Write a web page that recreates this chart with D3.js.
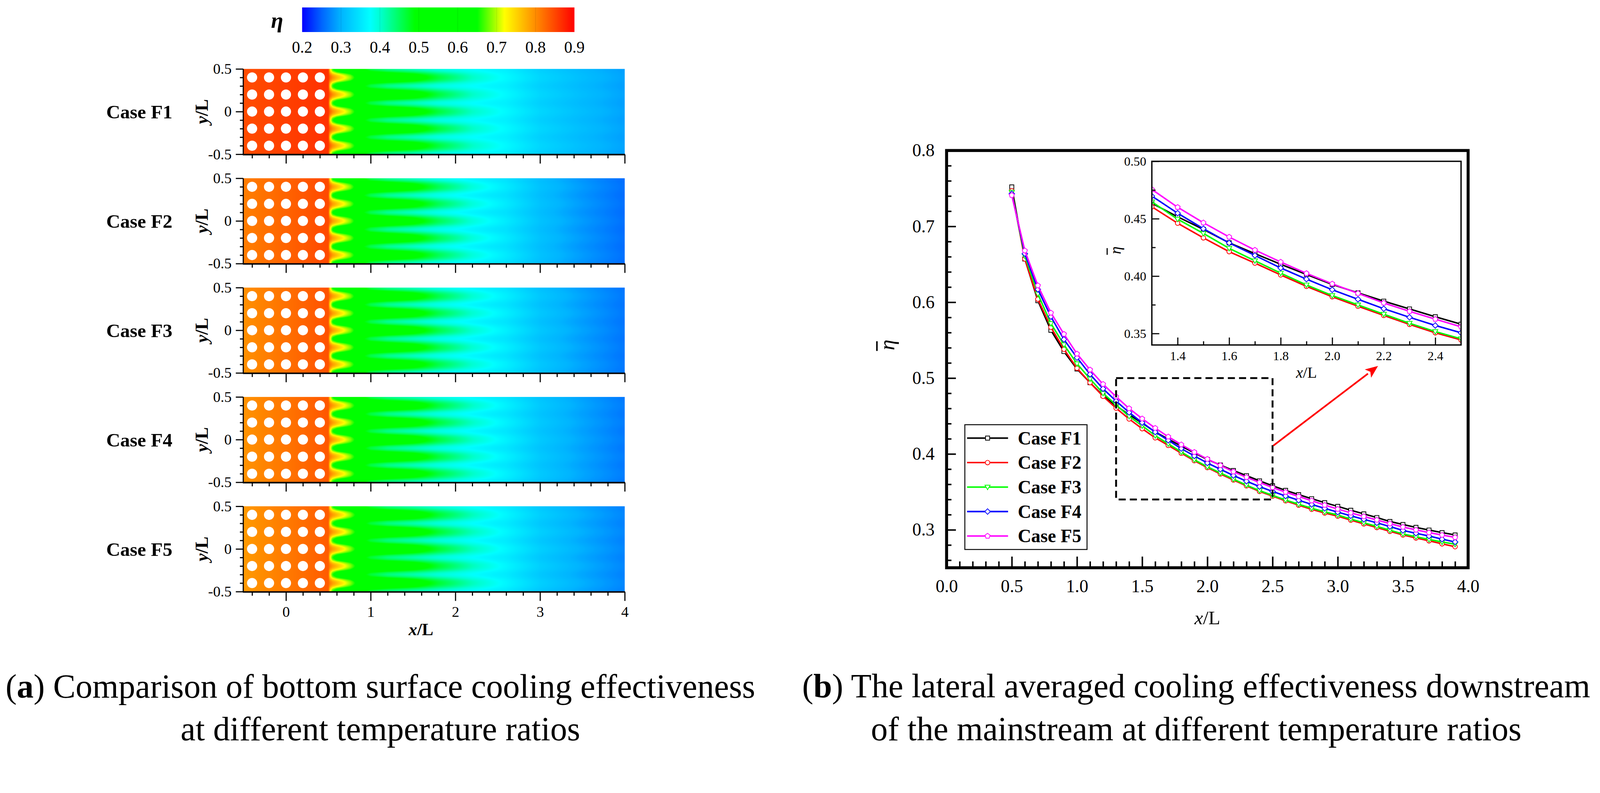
<!DOCTYPE html>
<html>
<head>
<meta charset="utf-8">
<script src="https://cdn.jsdelivr.net/npm/d3@7"></script>
<style>
  html, body { margin: 0; padding: 0; background: #fff; overflow: hidden; }
  svg { display: block; width: 100vw; height: 100vh; font-family: "Liberation Serif", "Times New Roman", serif; }
</style>
</head>
<body>
<svg id="fig" viewBox="0 0 4295 2030" preserveAspectRatio="xMinYMin meet"></svg>
<script>
const cbStops  = [0.20, 0.25, 0.30, 0.375, 0.40, 0.49, 0.65, 0.72, 0.80, 0.90];
const cbColors = ["#0000ff", "#0064ff", "#00b4ff", "#00ffff", "#00ffd2", "#00ff00", "#00ff00", "#ffff00", "#ff8c00", "#ff0000"];
const cbTicks  = [0.2, 0.3, 0.4, 0.5, 0.6, 0.7, 0.8, 0.9];

// ---------- panel (a): surface cooling effectiveness ----------
const cases = ["Case F1", "Case F2", "Case F3", "Case F4", "Case F5"];
const fieldXTicks = [0, 1, 2, 3, 4];
const fieldYTicks = [-0.5, 0, 0.5];
const holeX = [-0.4, -0.2, 0, 0.2, 0.4];
const holeY = [-0.4, -0.2, 0, 0.2, 0.4];

// eta inside the pin-fin region (x/L = -0.5 and 0.5)
const pinLeft  = [0.845, 0.81, 0.797, 0.795, 0.79];
const pinRight = [0.865, 0.848, 0.842, 0.838, 0.835];

// downstream stations and eta along jet rows (streak) and between rows (gap)
const fieldX   = [0.52, 0.55, 0.6, 0.65, 0.7, 0.76, 0.82, 0.9, 1.0, 1.2, 1.5, 1.8, 2.2, 2.6, 3.0, 3.5, 4.0];
const streakF1 = [0.83, 0.80, 0.77, 0.745, 0.72, 0.69, 0.645, 0.605, 0.585, 0.565, 0.525, 0.465, 0.405, 0.37, 0.335, 0.31, 0.29];
const gapF1    = [0.74, 0.66, 0.61, 0.59, 0.58, 0.57, 0.55, 0.50, 0.46, 0.43, 0.41, 0.39, 0.375, 0.36, 0.328, 0.305, 0.287];
const streakF2 = [0.82, 0.79, 0.765, 0.74, 0.715, 0.685, 0.64, 0.60, 0.58, 0.56, 0.515, 0.455, 0.395, 0.355, 0.315, 0.285, 0.258];
const gapF2    = [0.73, 0.65, 0.605, 0.585, 0.575, 0.565, 0.545, 0.495, 0.455, 0.425, 0.405, 0.385, 0.365, 0.345, 0.31, 0.28, 0.255];
const streakF3 = [0.815, 0.79, 0.765, 0.74, 0.715, 0.685, 0.64, 0.60, 0.582, 0.562, 0.52, 0.46, 0.40, 0.36, 0.32, 0.29, 0.263];
const gapF3    = [0.73, 0.65, 0.605, 0.585, 0.575, 0.565, 0.547, 0.497, 0.457, 0.427, 0.407, 0.387, 0.368, 0.348, 0.313, 0.285, 0.26];
const streakF4 = [0.81, 0.79, 0.765, 0.742, 0.718, 0.688, 0.645, 0.605, 0.585, 0.566, 0.525, 0.465, 0.405, 0.362, 0.322, 0.292, 0.266];
const gapF4    = [0.73, 0.655, 0.61, 0.59, 0.58, 0.57, 0.55, 0.50, 0.46, 0.43, 0.41, 0.39, 0.37, 0.35, 0.316, 0.288, 0.262];
const streakF5 = [0.81, 0.79, 0.768, 0.745, 0.72, 0.69, 0.65, 0.61, 0.59, 0.57, 0.53, 0.47, 0.41, 0.367, 0.328, 0.298, 0.272];
const gapF5    = [0.73, 0.66, 0.612, 0.592, 0.582, 0.572, 0.553, 0.505, 0.465, 0.435, 0.415, 0.395, 0.375, 0.355, 0.32, 0.292, 0.268];

// share of the row value across the half-pitch (distance from row centre, y/L)
const crossD = [0, 0.02, 0.04, 0.06, 0.08, 0.1];
const crossW = [1, 0.93, 0.72, 0.4, 0.12, 0];

// ---------- panel (b): lateral averaged effectiveness ----------
const etaX  = [0.5, 0.6, 0.7, 0.8, 0.9, 1.0, 1.1, 1.2, 1.3, 1.4, 1.5, 1.6, 1.7, 1.8, 1.9, 2.0, 2.1, 2.2, 2.3, 2.4,
               2.5, 2.6, 2.7, 2.8, 2.9, 3.0, 3.1, 3.2, 3.3, 3.4, 3.5, 3.6, 3.7, 3.8, 3.9];
const etaF1 = [0.752, 0.657, 0.602, 0.563, 0.535, 0.512, 0.494, 0.477, 0.4635, 0.4517, 0.4407, 0.429, 0.4196, 0.4103, 0.4014, 0.3927, 0.3854, 0.3782, 0.3714, 0.3646,
               0.3581, 0.352, 0.3464, 0.341, 0.3358, 0.3309, 0.3258, 0.321, 0.3162, 0.311, 0.307, 0.3032, 0.2997, 0.2963, 0.2932];
const etaF2 = [0.747, 0.657, 0.604, 0.567, 0.538, 0.513, 0.494, 0.476, 0.4604, 0.4461, 0.4333, 0.4213, 0.4113, 0.401, 0.3911, 0.382, 0.3737, 0.3657, 0.3579, 0.3506,
               0.3444, 0.3382, 0.3325, 0.327, 0.3222, 0.318, 0.3128, 0.3078, 0.303, 0.298, 0.2932, 0.2892, 0.2855, 0.2815, 0.2777];
const etaF3 = [0.745, 0.661, 0.611, 0.572, 0.544, 0.519, 0.499, 0.480, 0.4647, 0.4496, 0.4372, 0.4242, 0.4134, 0.4026, 0.3923, 0.3831, 0.3749, 0.3668, 0.3589, 0.3517,
               0.3454, 0.3393, 0.3337, 0.3284, 0.3236, 0.3195, 0.3142, 0.3093, 0.3045, 0.2995, 0.2946, 0.2908, 0.2873, 0.284, 0.281];
const etaF4 = [0.743, 0.664, 0.617, 0.581, 0.551, 0.527, 0.505, 0.486, 0.4697, 0.4548, 0.4413, 0.4289, 0.418, 0.4071, 0.3974, 0.3881, 0.3798, 0.3716, 0.3641, 0.357,
               0.3506, 0.3446, 0.339, 0.3335, 0.3283, 0.3233, 0.3185, 0.3138, 0.3093, 0.3043, 0.2992, 0.2955, 0.2918, 0.2877, 0.284];
const etaF5 = [0.741, 0.668, 0.622, 0.586, 0.558, 0.532, 0.511, 0.492, 0.4755, 0.460, 0.4465, 0.4341, 0.4227, 0.4123, 0.4024, 0.3933, 0.385, 0.3766, 0.3693, 0.3625,
               0.3558, 0.3497, 0.344, 0.3384, 0.3326, 0.3273, 0.3224, 0.3176, 0.313, 0.3082, 0.3037, 0.2999, 0.2963, 0.2931, 0.290];
const seriesColors = ["#000000", "#ff0000", "#00ff00", "#0000ff", "#ff00ff"];
const mainXTicks  = [0, 0.5, 1, 1.5, 2, 2.5, 3, 3.5, 4];
const mainYTicks  = [0.3, 0.4, 0.5, 0.6, 0.7, 0.8];
const insetXTicks = [1.4, 1.6, 1.8, 2.0, 2.2, 2.4];
const insetYTicks = [0.35, 0.40, 0.45, 0.50];

const captionA = [["(", false], ["a", true], [") Comparison of bottom surface cooling effectiveness", false]];
const captionA2 = "at different temperature ratios";
const captionB = [["(", false], ["b", true], [") The lateral averaged cooling effectiveness downstream", false]];
const captionB2 = "of the mainstream at different temperature ratios";

const streaks = [streakF1, streakF2, streakF3, streakF4, streakF5];
const gaps = [gapF1, gapF2, gapF3, gapF4, gapF5];
const etaSeries = [etaF1, etaF2, etaF3, etaF4, etaF5];

const svg = d3.select("#fig");
const defs = svg.append("defs");
const cmap = d3.scaleLinear().domain(cbStops).range(cbColors).clamp(true);

// lookup table for the raster
const lutScale = d3.scaleLinear().domain([0, 1000]).range([0.2, 0.9]);
const lut = d3.range(1001).map(k => d3.color(cmap(lutScale(k))));

function styleAxis(g, fs, sw) {
  g.attr("font-family", null).attr("font-size", fs);
  g.selectAll(".domain").remove();
  g.selectAll(".tick line").attr("stroke", "#000").attr("stroke-width", sw);
  g.selectAll(".tick text").attr("fill", "#000");
}

// ================= panel (a) =================
const xC = d3.scaleLinear().domain([-0.5, 4]).range([654, 1677]);
const panelH = 229;
const panelTop = i => 185 + i * 293.5;
const wScale = d3.scaleLinear().domain(crossD).range(crossW).clamp(true);

// colour bar
const cbX = d3.scaleLinear().domain([0.2, 0.9]).range([811, 1542]);
const cbGrad = defs.append("linearGradient").attr("id", "cbGrad")
  .attr("gradientUnits", "userSpaceOnUse")
  .attr("x1", cbX(0.2)).attr("x2", cbX(0.9)).attr("y1", 0).attr("y2", 0);
cbGrad.selectAll("stop").data(cbStops).join("stop")
  .attr("offset", d => (cbX(d) - cbX(0.2)) / (cbX(0.9) - cbX(0.2)))
  .attr("stop-color", (d, k) => cbColors[k]);
svg.append("rect").attr("x", cbX(0.2)).attr("y", 20).attr("width", cbX(0.9) - cbX(0.2)).attr("height", 66)
  .attr("fill", "url(#cbGrad)");
svg.append("g").selectAll("line").data(cbTicks.slice(1, -1)).join("line")
  .attr("x1", d => cbX(d)).attr("x2", d => cbX(d)).attr("y1", 20).attr("y2", 86)
  .attr("stroke", "#000").attr("stroke-opacity", 0.07).attr("stroke-width", 2);
svg.append("g").selectAll("text").data(cbTicks).join("text")
  .attr("x", d => cbX(d)).attr("y", 142).attr("text-anchor", "middle")
  .attr("font-size", 44).text(d3.format(".1f"));
svg.append("text").attr("x", 744).attr("y", 74).attr("text-anchor", "middle")
  .attr("font-size", 60).attr("font-weight", "bold").attr("font-style", "italic").text("η");

function drawField(i) {
  const top = panelTop(i);
  const w = Math.round(xC(4) - xC(-0.5));
  const h = panelH;
  const canvas = document.createElement("canvas");
  canvas.width = w * 2; canvas.height = h * 2;
  const ctx = canvas.getContext("2d");
  const W = canvas.width, H = canvas.height;
  const img = ctx.createImageData(W, H);
  const sScale = d3.scaleLinear().domain([-0.5, 0.5, ...fieldX]).range([pinLeft[i], pinRight[i], ...streaks[i]]);
  const gScale = d3.scaleLinear().domain([-0.5, 0.5, ...fieldX]).range([pinLeft[i], pinRight[i], ...gaps[i]]);
  const px2x = d3.scaleLinear().domain([0, W]).range([-0.5, 4]);
  const py2y = d3.scaleLinear().domain([0, H]).range([0.5, -0.5]);
  const rowW = d3.range(H).map(py => {
    const y = py2y(py + 0.5);
    return wScale(Math.abs(y - Math.round(y / 0.2) * 0.2));
  });
  for (let px = 0; px < W; px++) {
    const x = px2x(px + 0.5);
    const s = sScale(x), g = gScale(x);
    for (let py = 0; py < H; py++) {
      const v = g + (s - g) * rowW[py];
      const c = lut[Math.max(0, Math.min(1000, Math.round(lutScale.invert(v))))];
      const k = (py * W + px) * 4;
      img.data[k] = c.r; img.data[k + 1] = c.g; img.data[k + 2] = c.b; img.data[k + 3] = 255;
    }
  }
  ctx.putImageData(img, 0, 0);
  svg.append("image").attr("x", xC(-0.5)).attr("y", top).attr("width", w).attr("height", h)
    .attr("preserveAspectRatio", "none").attr("href", canvas.toDataURL());
}

cases.forEach((name, i) => {
  const top = panelTop(i);
  const yC = d3.scaleLinear().domain([-0.5, 0.5]).range([top + panelH, top]);
  drawField(i);

  // pin holes
  const r = xC(0.06) - xC(0);
  svg.append("g").selectAll("circle").data(d3.cross(holeX, holeY)).join("circle")
    .attr("cx", d => xC(d[0])).attr("cy", d => yC(d[1])).attr("r", r).attr("fill", "#fff");

  // y axis (major + minor ticks, outward)
  const ax = xC(-0.5) - 1;
  const gy = svg.append("g").attr("transform", `translate(${ax},0)`)
    .call(d3.axisLeft(yC).tickValues(fieldYTicks).tickSize(20).tickPadding(11).tickFormat(d => String(d)));
  styleAxis(gy, 40, 3);
  const gy2 = svg.append("g").attr("transform", `translate(${ax},0)`)
    .call(d3.axisLeft(yC).tickValues(d3.range(-0.4, 0.45, 0.1).filter(v => Math.abs(v) > 0.05)).tickSize(9).tickFormat(""));
  styleAxis(gy2, 40, 3);
  svg.append("line").attr("x1", ax).attr("x2", ax).attr("y1", top).attr("y2", top + panelH + 2)
    .attr("stroke", "#000").attr("stroke-width", 3);

  // x axis
  const by = top + panelH + 1;
  const gx = svg.append("g").attr("transform", `translate(0,${by})`)
    .call(d3.axisBottom(xC).tickValues(fieldXTicks).tickSize(24).tickPadding(14)
      .tickFormat(i === cases.length - 1 ? d => String(d) : ""));
  styleAxis(gx, 40, 3);
  const gx2 = svg.append("g").attr("transform", `translate(0,${by})`)
    .call(d3.axisBottom(xC).tickValues(d3.range(-0.4, 3.9, 0.2).filter(v => Math.abs(v - Math.round(v)) > 0.05)).tickSize(10).tickFormat(""));
  styleAxis(gx2, 40, 3);
  svg.append("line").attr("x1", ax - 1).attr("x2", xC(4) + 1).attr("y1", by).attr("y2", by)
    .attr("stroke", "#000").attr("stroke-width", 4);

  // labels
  svg.append("text").attr("x", 374).attr("y", yC(0)).attr("dy", "0.35em").attr("text-anchor", "middle")
    .attr("font-size", 52).attr("font-weight", "bold").text(name);
  const yl = svg.append("text").attr("transform", `translate(541,${yC(0)}) rotate(-90)`)
    .attr("text-anchor", "middle").attr("dy", "0.35em").attr("font-size", 48).attr("font-weight", "bold");
  yl.append("tspan").attr("font-style", "italic").text("y");
  yl.append("tspan").text("/L");
});

const xlA = svg.append("text").attr("x", 1130).attr("y", 1705).attr("text-anchor", "middle")
  .attr("font-size", 46).attr("font-weight", "bold");
xlA.append("tspan").attr("font-style", "italic").text("x");
xlA.append("tspan").text("/L");

// ================= panel (b) =================
const xR = d3.scaleLinear().domain([0, 4]).range([2541, 3941]);
const yR = d3.scaleLinear().domain([0.25, 0.8]).range([1524, 404]);
const xI = d3.scaleLinear().domain([1.3, 2.5]).range([3092, 3922]);
const yI = d3.scaleLinear().domain([0.34, 0.5]).range([926, 433]);

const markerPaths = [
  "M-5.5,-5.5H5.5V5.5H-5.5Z",
  d3.symbol(d3.symbolCircle, 115)(),
  "M-7,-5L7,-5L0,7Z",
  "M0,-7.5L7.5,0L0,7.5L-7.5,0Z",
  "M" + d3.range(5).map(k => {
    const a = -Math.PI / 2 + k * 2 * Math.PI / 5;
    return [7.2 * Math.cos(a), 7.2 * Math.sin(a)];
  }).join("L") + "Z"
];

// main axes ticks (inward)
const gxR = svg.append("g").attr("transform", `translate(0,${yR(0.25)})`)
  .call(d3.axisBottom(xR).tickValues(mainXTicks).tickSize(-30).tickPadding(32).tickFormat(d3.format(".1f")));
styleAxis(gxR, 48, 4);
const gxR2 = svg.append("g").attr("transform", `translate(0,${yR(0.25)})`)
  .call(d3.axisBottom(xR).tickValues(d3.range(0.1, 4, 0.1).filter(v => Math.abs(v * 2 - Math.round(v * 2)) > 0.05)).tickSize(-17).tickFormat(""));
styleAxis(gxR2, 48, 4);
const gyR = svg.append("g").attr("transform", `translate(${xR(0)},0)`)
  .call(d3.axisLeft(yR).tickValues(mainYTicks).tickSize(-25).tickPadding(32).tickFormat(d3.format(".1f")));
styleAxis(gyR, 48, 4);
const gyR2 = svg.append("g").attr("transform", `translate(${xR(0)},0)`)
  .call(d3.axisLeft(yR).tickValues(d3.range(0.26, 0.79, 0.02).filter(v => Math.abs(v * 10 - Math.round(v * 10)) > 0.05)).tickSize(-13).tickFormat(""));
styleAxis(gyR2, 48, 4);

svg.append("rect").attr("x", xR(0)).attr("y", yR(0.8)).attr("width", xR(4) - xR(0)).attr("height", yR(0.25) - yR(0.8))
  .attr("fill", "none").attr("stroke", "#000").attr("stroke-width", 8);

const xlB = svg.append("text").attr("x", xR(2)).attr("y", 1676).attr("text-anchor", "middle").attr("font-size", 52);
xlB.append("tspan").attr("font-style", "italic").text("x");
xlB.append("tspan").text("/L");

function etaLabel(x, y, fs, barY, barX1, barX2, sw) {
  const g = svg.append("g").attr("transform", `translate(${x},${y}) rotate(-90)`);
  g.append("text").attr("text-anchor", "middle").attr("font-size", fs).attr("font-style", "italic").text("η");
  g.append("line").attr("x1", barX1).attr("x2", barX2).attr("y1", barY).attr("y2", barY)
    .attr("stroke", "#000").attr("stroke-width", sw);
}
etaLabel(2400, 926, 58, -46, -16, 10, 4);

// series on the main chart
const lineR = d3.line().x((d, k) => xR(etaX[k])).y(d => yR(d));
etaSeries.forEach((vals, s) => {
  const g = svg.append("g");
  g.append("path").attr("d", lineR(vals)).attr("fill", "none")
    .attr("stroke", seriesColors[s]).attr("stroke-width", 4).attr("stroke-linejoin", "round");
  g.selectAll("path.m").data(vals).join("path").attr("class", "m")
    .attr("transform", (d, k) => `translate(${xR(etaX[k])},${yR(d)})`)
    .attr("d", markerPaths[s]).attr("fill", "#fff").attr("stroke", seriesColors[s]).attr("stroke-width", 2);
});

// zoom window and arrow
svg.append("rect").attr("x", xR(1.3)).attr("y", yR(0.5)).attr("width", xR(2.5) - xR(1.3)).attr("height", yR(0.34) - yR(0.5))
  .attr("fill", "none").attr("stroke", "#000").attr("stroke-width", 5).attr("stroke-dasharray", "19 11");
{
  const x0 = xR(2.506), y0 = yR(0.411), x1 = xR(3.309), y1 = yR(0.516);
  const a = Math.atan2(y1 - y0, x1 - x0), L = 34, W = 14;
  const bx = x1 - L * Math.cos(a), by = y1 - L * Math.sin(a);
  svg.append("line").attr("x1", x0).attr("y1", y0).attr("x2", bx).attr("y2", by)
    .attr("stroke", "#ff0000").attr("stroke-width", 4.5);
  svg.append("path").attr("fill", "#ff0000")
    .attr("d", `M${x1},${y1}L${bx - W * Math.sin(a)},${by + W * Math.cos(a)}L${bx + 8 * Math.cos(a)},${by + 8 * Math.sin(a)}L${bx + W * Math.sin(a)},${by - W * Math.cos(a)}Z`);
}

// legend
const legend = svg.append("g");
legend.append("rect").attr("x", 2590).attr("y", 1140).attr("width", 328).attr("height", 335)
  .attr("fill", "#fff").attr("stroke", "#000").attr("stroke-width", 2.5);
cases.forEach((name, s) => {
  const y = 1176 + s * 65.7;
  legend.append("line").attr("x1", 2596).attr("x2", 2706).attr("y1", y).attr("y2", y)
    .attr("stroke", seriesColors[s]).attr("stroke-width", 4);
  legend.append("path").attr("transform", `translate(2651,${y})`).attr("d", markerPaths[s])
    .attr("fill", "#fff").attr("stroke", seriesColors[s]).attr("stroke-width", 2);
  legend.append("text").attr("x", 2732).attr("y", y).attr("dy", "0.34em")
    .attr("font-size", 50).attr("font-weight", "bold").text(name);
});

// inset
svg.append("rect").attr("x", xI(1.3)).attr("y", yI(0.5)).attr("width", xI(2.5) - xI(1.3)).attr("height", yI(0.34) - yI(0.5))
  .attr("fill", "#fff");
defs.append("clipPath").attr("id", "insetClip").append("rect")
  .attr("x", xI(1.3)).attr("y", yI(0.5)).attr("width", xI(2.5) - xI(1.3)).attr("height", yI(0.34) - yI(0.5));
const inset = svg.append("g").attr("clip-path", "url(#insetClip)");
const lineI = d3.line().x((d, k) => xI(etaX[k])).y(d => yI(d));
etaSeries.forEach((vals, s) => {
  const g = inset.append("g");
  g.append("path").attr("d", lineI(vals)).attr("fill", "none")
    .attr("stroke", seriesColors[s]).attr("stroke-width", 4).attr("stroke-linejoin", "round");
  g.selectAll("path.m").data(vals.map((v, k) => [etaX[k], v]).filter(d => d[0] > 1.25 && d[0] < 2.55))
    .join("path").attr("class", "m")
    .attr("transform", d => `translate(${xI(d[0])},${yI(d[1])})`)
    .attr("d", markerPaths[s]).attr("fill", "#fff").attr("stroke", seriesColors[s]).attr("stroke-width", 2);
});
const gxI = svg.append("g").attr("transform", `translate(0,${yI(0.34)})`)
  .call(d3.axisBottom(xI).tickValues(insetXTicks).tickSize(-20).tickPadding(17).tickFormat(d3.format(".1f")));
styleAxis(gxI, 34, 3);
const gxI2 = svg.append("g").attr("transform", `translate(0,${yI(0.34)})`)
  .call(d3.axisBottom(xI).tickValues([1.5, 1.7, 1.9, 2.1, 2.3]).tickSize(-10).tickFormat(""));
styleAxis(gxI2, 34, 3);
const gyI = svg.append("g").attr("transform", `translate(${xI(1.3)},0)`)
  .call(d3.axisLeft(yI).tickValues(insetYTicks).tickSize(-20).tickPadding(15).tickFormat(d3.format(".2f")));
styleAxis(gyI, 34, 3);
const gyI2 = svg.append("g").attr("transform", `translate(${xI(1.3)},0)`)
  .call(d3.axisLeft(yI).tickValues([0.375, 0.425, 0.475]).tickSize(-10).tickFormat(""));
styleAxis(gyI2, 34, 3);
svg.append("rect").attr("x", xI(1.3)).attr("y", yI(0.5)).attr("width", xI(2.5) - xI(1.3)).attr("height", yI(0.34) - yI(0.5))
  .attr("fill", "none").attr("stroke", "#000").attr("stroke-width", 3.5);
const xlI = svg.append("text").attr("x", xI(1.9)).attr("y", 1014).attr("text-anchor", "middle").attr("font-size", 42);
xlI.append("tspan").attr("font-style", "italic").text("x");
xlI.append("tspan").text("/L");
etaLabel(3008, 672, 42, -36, -12, 6, 3);

// ================= captions =================
function caption(cx, y, parts) {
  const t = svg.append("text").attr("x", cx).attr("y", y).attr("text-anchor", "middle").attr("font-size", 80);
  if (typeof parts === "string") t.text(parts);
  else parts.forEach(p => t.append("tspan").attr("font-weight", p[1] ? "bold" : null).text(p[0]));
  return t;
}
const capA = [caption(1021, 1873, captionA), caption(1021, 1987, captionA2)];
const capB = [caption(3211, 1872, captionB), caption(3211, 1987, captionB2)];
const kA = 2012 / capA[0].node().getComputedTextLength();
const kB = 2140 / capB[0].node().getComputedTextLength();
const k = Math.min(kA, kB);
capA.concat(capB).forEach(t => t.attr("font-size", 80 * k));
</script>
</body>
</html>
